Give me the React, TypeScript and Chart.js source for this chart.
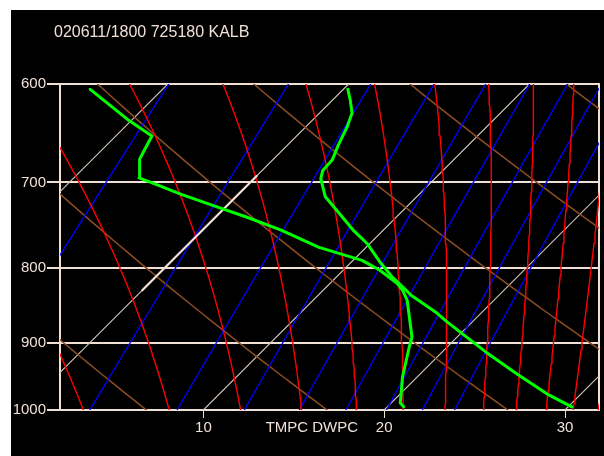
import React, { useEffect, useRef } from "react";
import { Chart, registerables } from "chart.js";

Chart.register(...registerables);

// ---- Data ----
const titleText = "020611/1800 725180 KALB";
const pressureTicks = [600, 700, 800, 900, 1000];
const tempTicks = [10, 16, 20, 30];
const tempTickLabels = ["10", "TMPC DWPC", "20", "30"];

// Temperature profile (TMPC)
const tempP = [995, 975, 945, 913, 871, 859, 835, 829, 812, 792, 771, 754, 731, 716, 696, 687, 676, 660, 642, 628, 615, 605];
const tempC = [30.2, 28.1, 25.35, 22.4, 18.6, 17.55, 15.1, 14.6, 13.1, 11.5, 9.9, 8.3, 6.3, 4.95, 3.7, 3.35, 3.3, 2.8, 2.3, 1.8, 0.96, 0.25];
// Dewpoint profile (DWPC)
const dewP = [995, 989, 950, 906, 892, 842, 829, 820, 803, 791, 775, 754, 739, 726, 713, 701, 695, 675, 669, 651, 634, 605];
const dewC = [20.9, 20.5, 19.2, 17.9, 17.5, 15.2, 14.4, 13.7, 12.0, 10.5, 7.4, 4.3, 1.7, -0.75, -3.2, -5.3, -6.4, -7.4, -7.55, -8.0, -10.3, -14.0];

// Background diagram lines
const isotherms = [-10, 0, 10, 20, 30]; // degC
const dryAdiabats = [280, 290, 300, 310, 320, 330]; // K
const mixingRatios = [3, 5, 7, 9, 11, 13, 15, 17, 19]; // g/kg
const moistStartT = [3.36, 8.11, 12.06, 15.44, 18.48, 21.05, 23.36, 25.48, 27.29, 28.95, 30.45, 31.84]; // degC at 1000 hPa
const highlightIsotherm = 0;
const highlightP = [829, 693];

const X_MIN = 2.07;
const X_MAX = 31.88;
const P_TOP = 600;
const P_BOT = 1000;
const SKEW = 35.3;

function skewX(t: number, p: number) {
  return t + SKEW * Math.log(1000 / p);
}

function pLevels(): number[] {
  const out: number[] = [];
  for (let p = P_BOT; p >= P_TOP; p -= 10) out.push(p);
  return out;
}

function isothermLine(t: number) {
  return [P_BOT, P_TOP].map((p) => ({ x: skewX(t, p), y: p }));
}

function dryLine(theta: number) {
  return pLevels().map((p) => ({ x: skewX(theta * Math.pow(p / 1000, 0.2857) - 273.15, p), y: p }));
}

function mixLine(w: number) {
  return pLevels().map((p) => {
    const es = (w * p) / (622 + w);
    const a = Math.log(es / 6.112);
    const t = (243.5 * a) / (17.67 - a);
    return { x: skewX(t, p), y: p };
  });
}

function dTdp(p: number, T: number) {
  const es = 6.112 * Math.exp((17.67 * (T - 273.15)) / (T - 29.65));
  const rs = (0.622 * es) / (p - es);
  const Lv = 2.501e6;
  const Rd = 287.04;
  return (Rd * T + Lv * rs) / (p * (1005.7 + (Lv * Lv * rs * 0.622) / (Rd * T * T)));
}

function moistLine(t0: number) {
  let T = t0 + 273.15;
  let p = P_BOT;
  const pts = [{ x: skewX(t0, p), y: p }];
  const h = -2;
  let step = 0;
  while (p > P_TOP) {
    const k1 = dTdp(p, T);
    const k2 = dTdp(p + h / 2, T + (h / 2) * k1);
    const k3 = dTdp(p + h / 2, T + (h / 2) * k2);
    const k4 = dTdp(p + h, T + h * k3);
    T += (h / 6) * (k1 + 2 * k2 + 2 * k3 + k4);
    p += h;
    step++;
    if (step % 5 === 0) pts.push({ x: skewX(T - 273.15, p), y: p });
  }
  return pts;
}

const FRAME = "#f0e0d4";
const TEXT = "#f0e0d8";

export default function App() {
  const ref = useRef<HTMLCanvasElement | null>(null);
  useEffect(() => {
    if (!ref.current) return;
    const line = (data: any[], color: string, width: number) => ({
      data,
      borderColor: color,
      backgroundColor: color,
      borderWidth: width,
      borderJoinStyle: "round",
      borderCapStyle: "round",
      pointRadius: 0,
      showLine: true,
      fill: false,
      tension: 0,
    });
    const datasets: any[] = [];
    datasets.push(line(tempP.map((p, i) => ({ x: skewX(tempC[i], p), y: p })), "#00ff00", 3));
    datasets.push(line(dewP.map((p, i) => ({ x: skewX(dewC[i], p), y: p })), "#00ff00", 3));
    datasets.push(line(highlightP.map((p) => ({ x: skewX(highlightIsotherm, p), y: p })), "#f2e0d8", 2.2));
    moistStartT.forEach((t) => datasets.push(line(moistLine(t), "#ff0000", 1.4)));
    mixingRatios.forEach((w) => datasets.push(line(mixLine(w), "#0000ff", 1.3)));
    dryAdiabats.forEach((th) => datasets.push(line(dryLine(th), "#8e4c24", 1.5)));
    isotherms.forEach((t) => datasets.push(line(isothermLine(t), "#d2c4b8", 1.1)));

    const titlePlugin = {
      id: "skewTitle",
      afterDraw(chart: any) {
        const ctx = chart.ctx;
        ctx.save();
        ctx.fillStyle = TEXT;
        ctx.font = "16px 'Liberation Sans', Arial, sans-serif";
        ctx.textBaseline = "middle";
        ctx.textAlign = "left";
        ctx.fillText(titleText, 43, 23);
        ctx.restore();
      },
    };

    const chart = new Chart(ref.current, {
      type: "scatter",
      data: { datasets },
      plugins: [titlePlugin],
      options: {
        animation: false,
        responsive: false,
        devicePixelRatio: 1,
        layout: { padding: { left: 0, right: 5, top: 74, bottom: 0 } },
        plugins: { legend: { display: false }, tooltip: { enabled: false }, title: { display: false } },
        scales: {
          x: {
            type: "linear",
            min: X_MIN,
            max: X_MAX,
            afterBuildTicks: (scale: any) => {
              scale.ticks = tempTicks.map((v) => ({ value: v }));
            },
            afterFit: (scale: any) => {
              scale.height = 46;
            },
            ticks: {
              autoSkip: false,
              maxRotation: 0,
              color: TEXT,
              font: { family: "'Liberation Sans', Arial, sans-serif", size: 15 },
              padding: 1,
              callback: (v: any) => {
                const i = tempTicks.indexOf(Number(v));
                return i >= 0 ? tempTickLabels[i] : "";
              },
            },
            grid: {
              drawOnChartArea: false,
              drawTicks: true,
              tickLength: 8,
              tickColor: (ctx: any) => (ctx.tick && ctx.tick.value === 16 ? "rgba(0,0,0,0)" : FRAME),
              tickWidth: 1,
            },
            border: { display: false },
          },
          y: {
            type: "logarithmic",
            reverse: true,
            min: P_TOP,
            max: P_BOT,
            afterBuildTicks: (scale: any) => {
              scale.ticks = pressureTicks.map((v) => ({ value: v }));
            },
            afterFit: (scale: any) => {
              scale.width = 49;
            },
            ticks: {
              autoSkip: false,
              color: TEXT,
              font: { family: "'Liberation Sans', Arial, sans-serif", size: 15 },
              padding: 1,
              callback: (v: any) => String(v),
            },
            grid: {
              color: FRAME,
              lineWidth: 2,
              drawTicks: true,
              tickLength: 13,
            },
            border: { display: true, color: FRAME, width: 2 },
          },
          y2: {
            type: "linear",
            position: "right",
            min: 0,
            max: 1,
            ticks: { display: false },
            grid: { drawOnChartArea: false, drawTicks: false },
            border: { display: true, color: FRAME, width: 2 },
            afterFit: (scale: any) => {
              scale.width = 0;
            },
          },
        },
      },
    } as any);
    return () => chart.destroy();
  }, []);

  return (
    <canvas
      ref={ref}
      width={593}
      height={446}
      style={{ position: "fixed", left: 11, top: 10, width: 593, height: 446, background: "#000", display: "block" }}
    />
  );
}
